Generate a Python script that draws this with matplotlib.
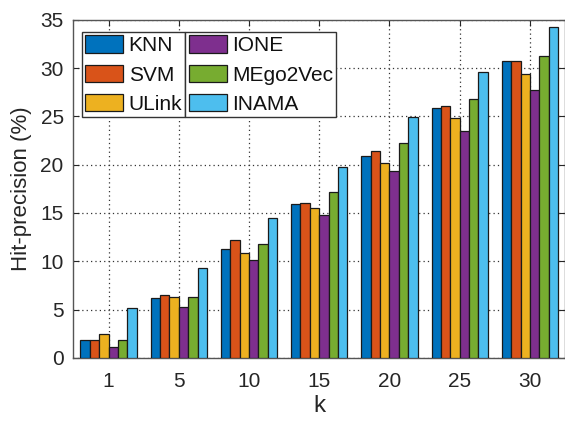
import matplotlib.pyplot as plt
import numpy as np

plt.rcParams["font.family"] = ["Liberation Sans", "DejaVu Sans"]

# hit-precision (%) per method at each k
k_values = ["1", "5", "10", "15", "20", "25", "30"]
methods = ["KNN", "SVM", "ULink", "IONE", "MEgo2Vec", "INAMA"]
knn = [1.8, 6.2, 11.3, 15.9, 20.9, 25.9, 30.7]
svm = [1.9, 6.5, 12.2, 16.0, 21.4, 26.1, 30.7]
ulink = [2.5, 6.3, 10.9, 15.5, 20.2, 24.8, 29.4]
ione = [1.1, 5.3, 10.1, 14.8, 19.3, 23.5, 27.7]
mego2vec = [1.8, 6.3, 11.8, 17.2, 22.2, 26.8, 31.3]
inama = [5.2, 9.3, 14.5, 19.8, 24.9, 29.6, 34.3]
colors = ["#0072BD", "#D95319", "#EDB120", "#7E2F8E", "#77AC30", "#4DBEEE"]

series = [knn, svm, ulink, ione, mego2vec, inama]
text_color = "#262626"

fig = plt.figure(figsize=(5.65, 4.22), dpi=100)
ax = fig.add_axes([0.130, 0.152, 0.870, 0.801])

x = np.arange(1, len(k_values) + 1)
n = len(series)
group_width = 0.8
bar_w = group_width / n
handles = []
for i, (vals, col) in enumerate(zip(series, colors)):
    offs = (i - (n - 1) / 2) * bar_w
    h = ax.bar(x + offs, vals, bar_w, color=col, edgecolor="#1a1a1a",
               linewidth=0.9, label=methods[i], zorder=3)
    handles.append(h)

ax.set_xlim(0.5, 7.5)
ax.set_ylim(0, 35)
ax.set_xticks(x)
ax.set_xticklabels(k_values)
ax.set_yticks(np.arange(0, 36, 5))
ax.tick_params(direction="in", length=4, labelsize=15, colors=text_color,
               top=True, right=True)
ax.tick_params(axis="x", pad=10)
ax.tick_params(axis="y", pad=7)
ax.grid(True, linestyle=(0, (1, 2.5)), color="#333333", linewidth=0.9, zorder=0)
ax.set_axisbelow(True)
for s in ax.spines.values():
    s.set_color("#555555")
    s.set_linewidth(1.0)

ax.set_xlabel("k", fontsize=17.5, color=text_color, labelpad=3)
ax.set_ylabel("Hit-precision (%)", fontsize=16, color=text_color, labelpad=6)

# two legend boxes side by side, the second starting where the first ends
leg_kw = dict(fontsize=15, frameon=True, fancybox=False, edgecolor="#333333",
              handlelength=1.85, handleheight=0.9, handletextpad=0.25,
              labelspacing=0.45, borderpad=0.15, borderaxespad=0,
              framealpha=1)
leg1 = ax.legend(handles[:3], methods[:3], loc="upper left",
                 bbox_to_anchor=(0.017, 0.963), **leg_kw)
ax.add_artist(leg1)
fig.canvas.draw()
bb = leg1.get_window_extent().transformed(ax.transAxes.inverted())
leg2 = ax.legend(handles[3:], methods[3:], loc="upper left",
                 bbox_to_anchor=(bb.x1, 0.963), **leg_kw)
for leg in (leg1, leg2):
    leg.get_frame().set_linewidth(1.0)
    for t in leg.get_texts():
        t.set_color("#111111")
    leg.set_zorder(5)

fig.savefig("out.png", dpi=100)
